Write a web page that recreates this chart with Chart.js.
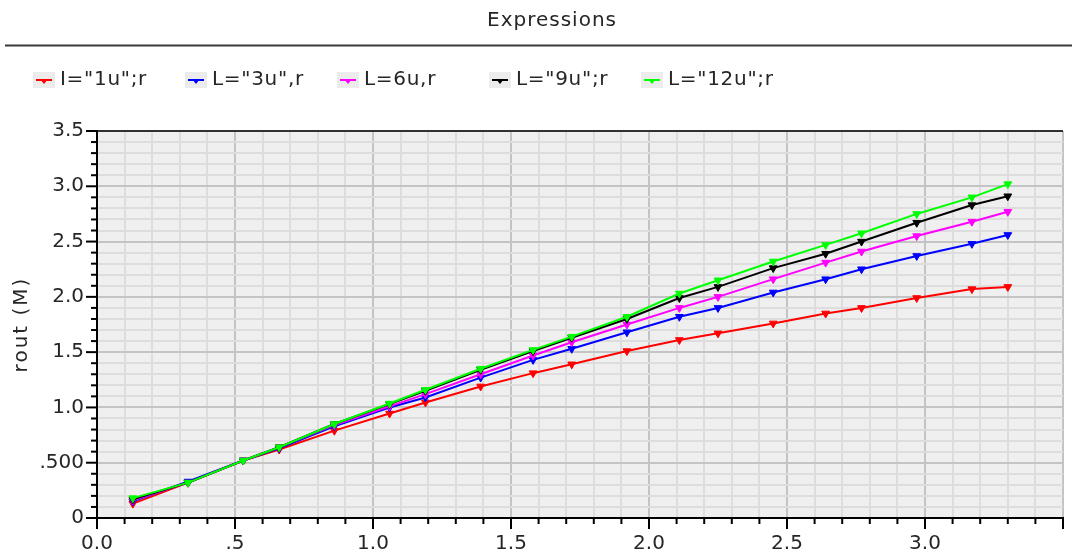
<!DOCTYPE html>
<html>
<head>
<meta charset="utf-8">
<script src="https://cdn.jsdelivr.net/npm/chart.js@4.4.1/dist/chart.umd.min.js"></script>
<style>
  html, body { margin: 0; padding: 0; background: #ffffff; overflow: hidden; width: 1072px; height: 556px; }
  #wrap { width: 1077px; height: 556px; }
</style>
</head>
<body>
<div id="wrap"><canvas id="c" width="1077" height="556"></canvas></div>
<script>
// ---- data ----
const chartTitle = 'Expressions';
const yAxisTitle = 'rout (M)';
const xValues = [0.13, 0.33, 0.53, 0.66, 0.86, 1.06, 1.19, 1.39, 1.58, 1.72, 1.92, 2.11, 2.25, 2.45, 2.64, 2.77, 2.97, 3.17, 3.30];
const seriesLabels = ['I="1u";r', 'L="3u",r', 'L=6u,r', 'L="9u";r', 'L="12u";r'];
const seriesColors = ['#ff0000', '#0000ff', '#ff00ff', '#000000', '#00ff00'];
const rout1u  = [0.13, 0.32, 0.52, 0.62, 0.79, 0.945, 1.045, 1.19, 1.31, 1.39, 1.51, 1.61, 1.67, 1.76, 1.85, 1.90, 1.99, 2.07, 2.09];
const rout3u  = [0.15, 0.33, 0.52, 0.63, 0.83, 1.00, 1.09, 1.27, 1.43, 1.53, 1.68, 1.82, 1.90, 2.04, 2.16, 2.25, 2.37, 2.48, 2.56];
const rout6u  = [0.16, 0.32, 0.52, 0.64, 0.84, 1.01, 1.12, 1.30, 1.47, 1.59, 1.75, 1.90, 2.00, 2.16, 2.31, 2.41, 2.55, 2.68, 2.77];
const rout9u  = [0.17, 0.32, 0.52, 0.64, 0.85, 1.03, 1.15, 1.34, 1.51, 1.63, 1.80, 1.99, 2.09, 2.26, 2.39, 2.50, 2.67, 2.83, 2.91];
const rout12u = [0.18, 0.32, 0.52, 0.64, 0.85, 1.035, 1.16, 1.35, 1.52, 1.64, 1.82, 2.03, 2.15, 2.32, 2.47, 2.575, 2.75, 2.90, 3.02];
const seriesValues = [rout1u, rout3u, rout6u, rout9u, rout12u];
const xTickLabels = {0: '0.0', 0.5: '.5', 1: '1.0', 1.5: '1.5', 2: '2.0', 2.5: '2.5', 3: '3.0'};
const yTickLabels = {0: '0', 0.5: '.500', 1: '1.0', 1.5: '1.5', 2: '2.0', 2.5: '2.5', 3: '3.0', 3.5: '3.5'};

const FONT = "'DejaVu Sans', sans-serif";
const TEXT = '#262626';
const isMajor = v => Math.abs(v * 2 - Math.round(v * 2)) < 1e-6;
const keyOf = v => String(Math.round(v * 10) / 10);

const datasets = seriesLabels.map((lab, i) => ({
  label: lab,
  data: xValues.map((x, j) => ({x: x, y: seriesValues[i][j]})),
  borderColor: seriesColors[i],
  backgroundColor: seriesColors[i],
  borderWidth: 2,
  pointStyle: 'triangle',
  rotation: 180,
  pointRadius: 4.5,
  pointBorderWidth: 1,
  tension: 0,
  order: seriesLabels.length - i
}));

const decor = {
  id: 'decor',
  beforeDraw(chart) {
    const {ctx, chartArea: a} = chart;
    ctx.save();
    ctx.fillStyle = '#efefef';
    ctx.fillRect(a.left, a.top, a.right - a.left, a.bottom - a.top);
    ctx.restore();
  },
  afterDraw(chart) {
    const {ctx, chartArea: a} = chart;
    const xs = chart.scales.x, ys = chart.scales.y;
    ctx.save();
    // top border
    ctx.strokeStyle = '#000';
    ctx.lineWidth = 1.5;
    ctx.beginPath(); ctx.moveTo(a.left, a.top); ctx.lineTo(a.right, a.top); ctx.stroke();
    // tick marks
    ctx.lineWidth = 2;
    xs.ticks.forEach(t => {
      const p = xs.getPixelForValue(t.value);
      const len = isMajor(t.value) ? 11 : 6;
      ctx.beginPath(); ctx.moveTo(p, a.bottom); ctx.lineTo(p, a.bottom + len); ctx.stroke();
    });
    ys.ticks.forEach(t => {
      const p = ys.getPixelForValue(t.value);
      const len = isMajor(t.value) ? 11 : 6;
      ctx.beginPath(); ctx.moveTo(a.left, p); ctx.lineTo(a.left - len, p); ctx.stroke();
    });
    // title
    ctx.fillStyle = TEXT;
    ctx.font = '20px ' + FONT;
    ctx.letterSpacing = '1px';
    ctx.textAlign = 'center';
    ctx.textBaseline = 'middle';
    ctx.fillText(chartTitle, 552, 21);
    // y axis title
    ctx.save();
    ctx.translate(22, (a.top + a.bottom) / 2);
    ctx.rotate(-Math.PI / 2);
    ctx.letterSpacing = '2px';
    ctx.fillText(yAxisTitle, 0, 0);
    ctx.restore();
    // divider
    ctx.strokeStyle = '#3a3a3a';
    ctx.lineWidth = 2;
    ctx.beginPath(); ctx.moveTo(5, 45.5); ctx.lineTo(1077, 45.5); ctx.stroke();
    // legend
    chart.data.datasets.forEach((ds, i) => {
      const x0 = 33 + i * 152, yc = 80;
      ctx.fillStyle = '#ececec';
      ctx.fillRect(x0, yc - 8, 22, 16);
      ctx.strokeStyle = ds.borderColor;
      ctx.lineWidth = 2;
      ctx.beginPath(); ctx.moveTo(x0 + 3, yc); ctx.lineTo(x0 + 19, yc); ctx.stroke();
      ctx.fillStyle = ds.borderColor;
      ctx.beginPath();
      ctx.moveTo(x0 + 7, yc - 1); ctx.lineTo(x0 + 15, yc - 1); ctx.lineTo(x0 + 11, yc + 4);
      ctx.closePath(); ctx.fill();
      ctx.fillStyle = TEXT;
      ctx.font = '20px ' + FONT;
      ctx.letterSpacing = '0.7px';
      ctx.textAlign = 'left';
      ctx.textBaseline = 'middle';
      ctx.fillText(ds.label, x0 + 27, yc);
    });
    ctx.restore();
  }
};

new Chart(document.getElementById('c'), {
  type: 'line',
  data: { datasets: datasets },
  plugins: [decor],
  options: {
    responsive: false,
    animation: false,
    layout: { padding: { top: 131, left: 0, right: 0, bottom: 0 } },
    plugins: { legend: { display: false }, title: { display: false }, tooltip: { enabled: false } },
    scales: {
      x: {
        type: 'linear', min: 0, max: 3.5,
        afterFit: s => { s.height = 38; },
        border: { color: '#000', width: 2 },
        grid: {
          drawTicks: false,
          color: c => isMajor(c.tick.value) ? '#c4c4c4' : '#dddddd',
          lineWidth: 2
        },
        ticks: {
          stepSize: 0.1, autoSkip: false, maxRotation: 0, padding: 14,
          color: TEXT, font: { family: FONT, size: 20 },
          callback: v => (isMajor(v) && xTickLabels[keyOf(v)] !== undefined) ? xTickLabels[keyOf(v)] : ''
        }
      },
      y: {
        type: 'linear', min: 0, max: 3.5,
        afterFit: s => { s.width = 97; },
        border: { color: '#000', width: 2 },
        grid: {
          drawTicks: false,
          color: c => isMajor(c.tick.value) ? '#c4c4c4' : '#dddddd',
          lineWidth: 2
        },
        ticks: {
          stepSize: 0.1, autoSkip: false, padding: 13,
          color: TEXT, font: { family: FONT, size: 20 },
          callback: v => (isMajor(v) && yTickLabels[keyOf(v)] !== undefined) ? yTickLabels[keyOf(v)] : ''
        }
      }
    }
  }
});
</script>
</body>
</html>
